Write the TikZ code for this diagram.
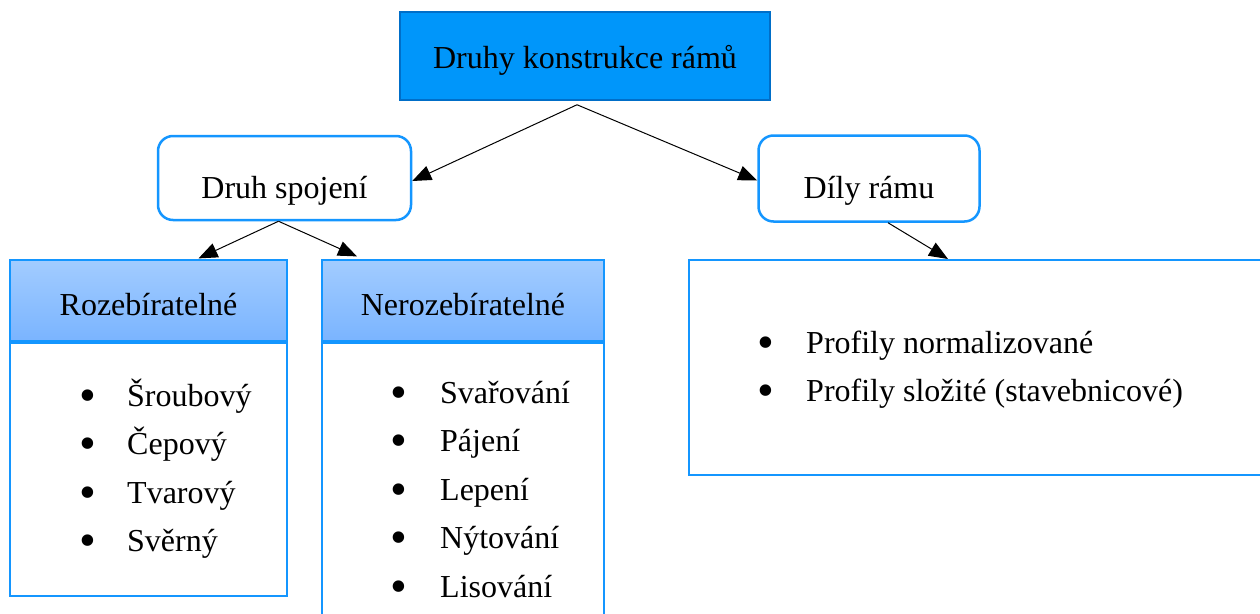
\documentclass[tikz,border=0pt]{standalone}
\usepackage{fontspec}
\setmainfont{Liberation Serif}
\usetikzlibrary{arrows.meta}
\definecolor{topfill}{RGB}{0,150,250}
\definecolor{topdraw}{RGB}{0,110,200}
\definecolor{edgeblue}{RGB}{20,150,255}
\definecolor{hdtop}{RGB}{162,204,255}
\definecolor{hdbot}{RGB}{122,180,255}
\newcommand{\bigbul}{\raisebox{-5pt}{\scalebox{1.5}{•}}}
\begin{document}
\begin{tikzpicture}[x=1pt,y=-1pt,
  font=\fontsize{32}{38}\selectfont,
  arr/.style={-{Triangle[length=19pt,width=15pt]}, line width=1pt, black},
  topbox/.style={draw=topdraw, fill=topfill, line width=1.5pt, inner sep=0pt,
    minimum width=370pt, minimum height=88pt, text height=30pt, text depth=6pt},
  roundbox/.style={draw=edgeblue, fill=white, line width=2.5pt, rounded corners=15pt,
    inner sep=0pt, text height=46pt, text depth=6pt},
  hdbox/.style={draw=edgeblue, line width=1.2pt, top color=hdtop, bottom color=hdbot,
    inner sep=0pt, text height=35pt, text depth=6pt},
  bodybox/.style={draw=edgeblue, line width=2.2pt, fill=white},
  item/.style={anchor=base west, inner sep=0pt}
]
\useasboundingbox (0,0) rectangle (1260,613);
\clip (0,0) rectangle (1260,613);

% top
\node[topbox] (top) at (585,56) {Druhy konstrukce rámů};

% second level
\node[roundbox, minimum width=253pt, minimum height=84pt] (ds) at (284.5,178) {Druh spojení};
\node[roundbox, minimum width=221pt, minimum height=86pt] (dr) at (869,178.5) {Díly rámu};

% headers
\node[hdbox, minimum width=277pt, minimum height=81pt] (roz) at (148.5,300.5) {Rozebíratelné};
\node[hdbox, minimum width=282pt, minimum height=81pt] (ner) at (463,300.5) {Nerozebíratelné};

% bodies
\draw[bodybox] (10,343) rectangle (287,596);
\draw[bodybox] (322,343) rectangle (604,630);
\draw[bodybox] (689,260) rectangle (1270,475);

% list items left
\node[item] (l1) at (127,406) {\llap{\bigbul\hspace{30.5pt}}Šroubový};
\node[item] (l2) at (127,454.5) {\llap{\bigbul\hspace{30.5pt}}Čepový};
\node[item] (l3) at (127,503) {\llap{\bigbul\hspace{30.5pt}}Tvarový};
\node[item] (l4) at (127,551.5) {\llap{\bigbul\hspace{30.5pt}}Svěrný};

% list items middle
\node[item] (m1) at (440,403) {\llap{\bigbul\hspace{32.5pt}}Svařování};
\node[item] (m2) at (440,451.5) {\llap{\bigbul\hspace{32.5pt}}Pájení};
\node[item] (m3) at (440,500) {\llap{\bigbul\hspace{32.5pt}}Lepení};
\node[item] (m4) at (440,548.5) {\llap{\bigbul\hspace{32.5pt}}Nýtování};
\node[item] (m5) at (440,597) {\llap{\bigbul\hspace{32.5pt}}Lisování};

% list items right
\node[item] (r1) at (806,353) {\llap{\bigbul\hspace{31.5pt}}Profily normalizované};
\node[item] (r2) at (806,401.5) {\llap{\bigbul\hspace{31.5pt}}Profily složité (stavebnicové)};

% connectors
\coordinate (topout) at ([xshift=-8pt,yshift=-4pt]top.south);
\coordinate (dsout) at ([xshift=-6pt]ds.south);
\coordinate (drout) at ([xshift=19pt]dr.south);
\coordinate (rightin) at (948,259);
\draw[arr] (topout) -- ([yshift=-3pt]ds.east);
\draw[arr] (topout) -- ([yshift=-2pt]dr.west);
\draw[arr] (dsout) -- ([xshift=50pt,yshift=1pt]roz.north);
\draw[arr] (dsout) -- ([xshift=-106pt,yshift=3pt]ner.north);
\draw[arr] (drout) -- (rightin);
\end{tikzpicture}
\end{document}
